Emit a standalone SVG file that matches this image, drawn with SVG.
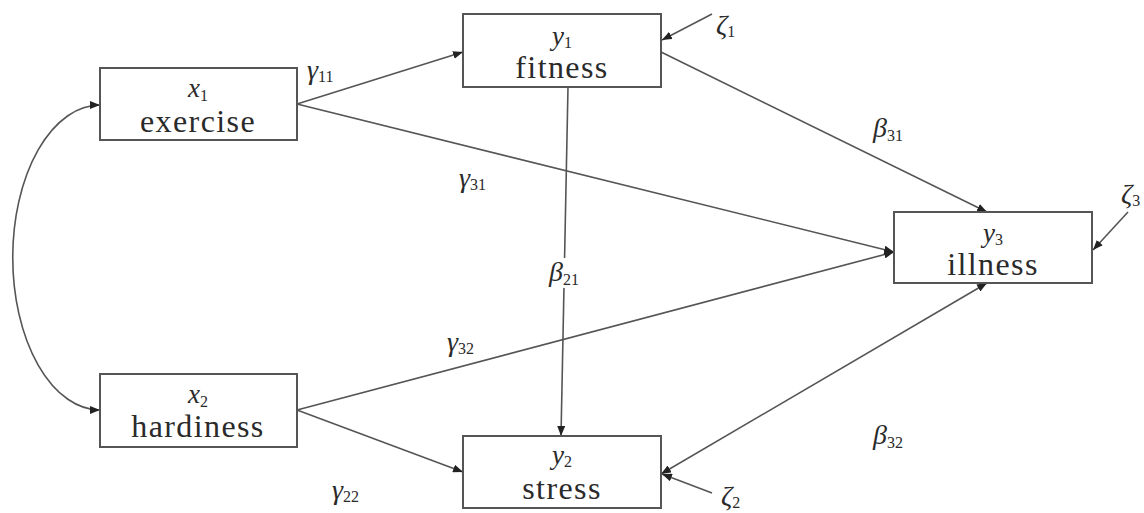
<svg xmlns="http://www.w3.org/2000/svg" width="1144" height="513" viewBox="0 0 1144 513">
<defs>
<marker id="ah" viewBox="0 0 10 8" refX="10" refY="4" markerWidth="10" markerHeight="8" markerUnits="userSpaceOnUse" orient="auto-start-reverse">
<path d="M0,0 L10,4 L0,8 z" fill="#222"/>
</marker>
<style>
.box{fill:#fff;stroke:#555;stroke-width:2}
.name{font-family:"Liberation Serif",serif;font-size:32px;fill:#2a2a2a;text-anchor:middle;letter-spacing:1.4px}
.var{font-family:"Liberation Serif",serif;font-style:italic;font-size:27px;fill:#2a2a2a;text-anchor:middle}
.sub{font-style:normal;font-size:16px}
.lbl{font-family:"Liberation Serif",serif;font-style:italic;font-size:28px;fill:#2a2a2a}
.ls{font-style:normal;font-size:16px}
.c{fill:none;stroke:#555;stroke-width:1.6}
</style>
</defs>
<rect width="1144" height="513" fill="#fff"/>
<g id="connectors">
<path class="c" d="M100,105 A87,152 0 0,0 100,410" marker-start="url(#ah)" marker-end="url(#ah)"/>
<line class="c" x1="297" y1="104" x2="463" y2="52" marker-end="url(#ah)"/>
<line class="c" x1="297" y1="104" x2="894" y2="252" marker-end="url(#ah)"/>
<line class="c" x1="297" y1="410" x2="894" y2="252" marker-end="url(#ah)"/>
<line class="c" x1="297" y1="410" x2="463" y2="472" marker-end="url(#ah)"/>
<line class="c" x1="568" y1="87" x2="561" y2="436" marker-end="url(#ah)"/>
<line class="c" x1="661" y1="52" x2="987" y2="212" marker-end="url(#ah)"/>
<line class="c" x1="987" y1="283" x2="661" y2="474" marker-start="url(#ah)" marker-end="url(#ah)"/>
<line class="c" x1="712" y1="14" x2="662" y2="40" marker-end="url(#ah)"/>
<line class="c" x1="1128" y1="212" x2="1093" y2="250" marker-end="url(#ah)"/>
<line class="c" x1="712" y1="493" x2="662" y2="474" marker-end="url(#ah)"/>
</g>
<g id="x1">
<rect class="box" x="100" y="68" width="197" height="72"/>
<text class="var" x="198" y="97">x<tspan class="sub" dy="4">1</tspan></text>
<text class="name" x="198" y="132">exercise</text>
</g>
<g id="x2">
<rect class="box" x="100" y="374" width="197" height="73"/>
<text class="var" x="198" y="403">x<tspan class="sub" dy="4">2</tspan></text>
<text class="name" x="198" y="437">hardiness</text>
</g>
<g id="y1">
<rect class="box" x="463" y="14" width="198" height="73"/>
<text class="var" x="562" y="45">y<tspan class="sub" dy="3">1</tspan></text>
<text class="name" x="562" y="78">fitness</text>
</g>
<g id="y2">
<rect class="box" x="463" y="436" width="198" height="72"/>
<text class="var" x="562" y="464">y<tspan class="sub" dy="3">2</tspan></text>
<text class="name" x="562" y="499">stress</text>
</g>
<g id="y3">
<rect class="box" x="894" y="212" width="198" height="71"/>
<text class="var" x="993" y="242">y<tspan class="sub" dy="3">3</tspan></text>
<text class="name" x="993" y="275">illness</text>
</g>
<g id="labels">
<text class="lbl" x="307" y="79">γ<tspan class="ls" dy="3">11</tspan></text>
<text class="lbl" x="459" y="187">γ<tspan class="ls" dy="3">31</tspan></text>
<text class="lbl" x="447" y="351">γ<tspan class="ls" dy="3">32</tspan></text>
<text class="lbl" x="332" y="499">γ<tspan class="ls" dy="3">22</tspan></text>
<text class="lbl" x="873" y="137">β<tspan class="ls" dy="4">31</tspan></text>
<rect x="546" y="258" width="44" height="30" fill="#fff"/>
<text class="lbl" x="549" y="281">β<tspan class="ls" dy="4">21</tspan></text>
<text class="lbl" x="873" y="444">β<tspan class="ls" dy="4">32</tspan></text>
<text class="lbl" x="716" y="34">ζ<tspan class="ls" dy="3">1</tspan></text>
<text class="lbl" x="1121" y="203">ζ<tspan class="ls" dy="3">3</tspan></text>
<text class="lbl" x="721" y="505">ζ<tspan class="ls" dy="3">2</tspan></text>
</g>
</svg>
